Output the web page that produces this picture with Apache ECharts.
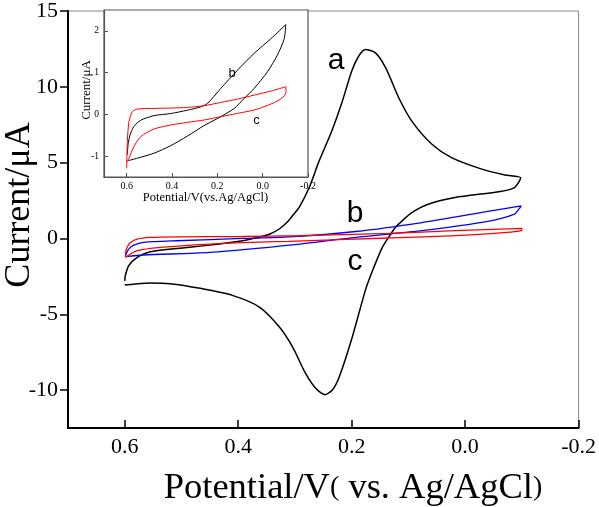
<!DOCTYPE html>
<html><head><meta charset="utf-8">
<script src="https://cdn.jsdelivr.net/npm/echarts@6/dist/echarts.min.js"></script>
<style>html,body{margin:0;padding:0;background:#fff}#c{width:599px;height:507px}</style>
</head><body><div id="c"></div>
<script>
// Main plot curves [potential V, current uA]
const curveA = [[0.6,-2.8],[0.599,-2.45],[0.593,-1.8],[0.578,-1.25],[0.555,-0.88],[0.508,-0.66],[0.45,-0.44],[0.392,-0.15],[0.366,0.06],[0.345,0.28],[0.327,0.64],[0.313,1.10],[0.303,1.56],[0.292,2.09],[0.275,3.34],[0.258,5.05],[0.235,7.09],[0.218,8.86],[0.2,11.03],[0.188,12.0],[0.176,12.46],[0.158,12.24],[0.14,11.25],[0.117,9.28],[0.094,7.74],[0.059,6.23],[0.024,5.33],[-0.028,4.59],[-0.07,4.19],[-0.098,4.0],[-0.087,3.36],[-0.062,3.1],[0.018,2.7],[0.065,2.26],[0.094,1.71],[0.111,1.16],[0.123,0.72],[0.135,0.07],[0.146,-0.59],[0.164,-2.2],[0.176,-3.44],[0.199,-6.51],[0.222,-9.14],[0.234,-10.0],[0.247,-10.3],[0.263,-9.9],[0.281,-8.92],[0.304,-7.17],[0.327,-5.86],[0.362,-4.54],[0.409,-3.77],[0.467,-3.29],[0.52,-2.98],[0.555,-2.93],[0.6,-3.07]];
const curveB = [[0.599,-1.14],[0.593,-0.70],[0.584,-0.44],[0.567,-0.26],[0.508,-0.15],[0.392,0.0],[0.31,0.1],[0.193,0.46],[0.076,1.05],[-0.04,1.78],[-0.099,2.15],[-0.095,1.95],[-0.087,1.6],[-0.04,1.12],[0.076,0.51],[0.193,0.07],[0.30,-0.41],[0.45,-0.92],[0.567,-1.09],[0.599,-1.2]];
const curveC = [[0.599,-1.03],[0.596,-0.59],[0.590,-0.26],[0.578,-0.04],[0.555,0.07],[0.508,0.11],[0.392,0.13],[0.292,0.18],[0.135,0.33],[0.018,0.51],[-0.1,0.66],[-0.099,0.51],[-0.08,0.42],[0.018,0.18],[0.135,0.03],[0.31,-0.19],[0.362,-0.24],[0.45,-0.37],[0.537,-0.59],[0.578,-0.81],[0.599,-1.25]];
// Inset curves
const insetB = [[0.597,-0.97],[0.594,-0.73],[0.585,-0.49],[0.568,-0.29],[0.538,-0.14],[0.479,-0.03],[0.406,0.02],[0.332,0.10],[0.273,0.18],[0.244,0.26],[0.185,0.62],[0.111,1.06],[0.038,1.46],[-0.036,1.81],[-0.102,2.15],[-0.095,1.81],[-0.065,1.42],[-0.021,1.02],[0.038,0.62],[0.082,0.38],[0.126,0.14],[0.2,-0.10],[0.259,-0.27],[0.332,-0.52],[0.406,-0.75],[0.479,-0.93],[0.553,-1.05],[0.594,-1.11]];
const insetC = [[0.6,-1.29],[0.597,-0.65],[0.59,-0.175],[0.575,0.064],[0.553,0.127],[0.479,0.143],[0.406,0.151],[0.332,0.167],[0.259,0.207],[0.185,0.286],[0.111,0.366],[0.038,0.461],[-0.036,0.557],[-0.102,0.66],[-0.103,0.54],[-0.095,0.445],[-0.065,0.318],[-0.006,0.183],[0.038,0.103],[0.111,0.024],[0.185,-0.056],[0.259,-0.135],[0.332,-0.191],[0.406,-0.255],[0.479,-0.35],[0.538,-0.533],[0.568,-0.77],[0.59,-1.05],[0.6,-1.15]];
// Tick values
const xTicks = [0.6,0.4,0.2,0.0,-0.2];
const yTicksMain = [-10,-5,0,5,10,15];
const yTicksInset = [-1,0,1,2];
// Curve labels
const mainLabels = [{name:'a', value:[0.2275,11.69]},{name:'b', value:[0.194,1.62]},{name:'c', value:[0.194,-1.53]}];
const insetLabels = [{name:'b', value:[0.135,0.98]},{name:'c', value:[0.027,-0.14]}];

const serif = '"Liberation Serif","Times New Roman",serif';
const sans = '"Liberation Sans",Arial,sans-serif';
const chart = echarts.init(document.getElementById('c'), null, {renderer:'canvas'});
const fmt = v => (Math.abs(v) < 1e-9 ? '0.0' : v.toFixed(1));
chart.setOption({
  animation:false,
  backgroundColor:'#fff',
  grid:[
    {left:68, top:10, width:512, height:418, show:true, borderColor:'#888', borderWidth:1, backgroundColor:'#fff'},
    {left:104, top:10, width:204, height:167, show:true, borderColor:'#555', borderWidth:1.2, backgroundColor:'#fff'}
  ],
  xAxis:[
    {gridIndex:0, type:'value', min:-0.2, max:0.7, inverse:true,
     axisLine:{onZero:false, lineStyle:{color:'#000', width:2}},
     axisTick:{inside:true, length:8, lineStyle:{color:'#000', width:1.5}, customValues:xTicks},
     axisLabel:{customValues:xTicks, formatter:fmt, fontFamily:serif, fontSize:22, color:'#000', margin:8},
     splitLine:{show:false}},
    {gridIndex:1, type:'value', min:-0.2, max:0.7, inverse:true,
     axisLine:{onZero:false, lineStyle:{color:'#555', width:1.2}},
     axisTick:{inside:true, length:4, lineStyle:{color:'#555', width:1}, customValues:xTicks},
     axisLabel:{customValues:xTicks, formatter:fmt, fontFamily:serif, fontSize:10, color:'#000', margin:4},
     splitLine:{show:false}}
  ],
  yAxis:[
    {gridIndex:0, type:'value', min:-12.5, max:15,
     axisLine:{onZero:false, lineStyle:{color:'#000', width:2}},
     axisTick:{inside:false, length:8, lineStyle:{color:'#000', width:1.5}, customValues:yTicksMain},
     axisLabel:{customValues:yTicksMain, fontFamily:serif, fontSize:22, color:'#000', margin:10},
     splitLine:{show:false}},
    {gridIndex:1, type:'value', min:-1.5, max:2.5,
     axisLine:{onZero:false, lineStyle:{color:'#555', width:1.2}},
     axisTick:{inside:true, length:4, lineStyle:{color:'#555', width:1}, customValues:yTicksInset},
     axisLabel:{customValues:yTicksInset, fontFamily:serif, fontSize:9.5, color:'#000', margin:5},
     splitLine:{show:false}}
  ],
  series:[
    {type:'line', xAxisIndex:0, yAxisIndex:0, data:curveA, showSymbol:false, smooth:0.25, lineStyle:{color:'#000', width:1.5}},
    {type:'line', xAxisIndex:0, yAxisIndex:0, data:curveB, showSymbol:false, smooth:0.25, lineStyle:{color:'#0000ff', width:1.3}},
    {type:'line', xAxisIndex:0, yAxisIndex:0, data:curveC, showSymbol:false, smooth:0.25, lineStyle:{color:'#ff0000', width:1.3}},
    {type:'scatter', xAxisIndex:0, yAxisIndex:0, data:mainLabels, symbolSize:0, silent:true, itemStyle:{opacity:1},
     label:{show:true, position:'inside', formatter:'{b}', fontFamily:sans, fontSize:30, color:'#000', opacity:1}},
    {type:'line', xAxisIndex:1, yAxisIndex:1, data:insetB, showSymbol:false, smooth:0.25, lineStyle:{color:'#000', width:1}},
    {type:'line', xAxisIndex:1, yAxisIndex:1, data:insetC, showSymbol:false, smooth:0.25, lineStyle:{color:'#ff0000', width:1}},
    {type:'scatter', xAxisIndex:1, yAxisIndex:1, data:insetLabels, symbolSize:0, silent:true, itemStyle:{opacity:1},
     label:{show:true, position:'inside', formatter:'{b}', fontFamily:sans, fontSize:13, color:'#000', opacity:1}}
  ],
  graphic:[
    {type:'text', x:20, y:205, rotation:Math.PI/2,
     style:{text:'Current/μA', font:'36px '+serif, fill:'#000', textAlign:'center', textVerticalAlign:'middle'}},
    {type:'text', x:353, y:488,
     style:{text:'{m|Potential/V}{p|(}{m| vs. Ag/AgCl}{p|)}', textAlign:'center', textVerticalAlign:'middle', fill:'#000',
       rich:{m:{fontFamily:serif, fontSize:36.5, fill:'#000'}, p:{fontFamily:serif, fontSize:28, fill:'#000'}}}},
    {type:'text', x:205.5, y:198,
     style:{text:'Potential/V(vs.Ag/AgCl)', font:'12.5px '+serif, fill:'#000', textAlign:'center', textVerticalAlign:'middle'}},
    {type:'text', x:87, y:90, rotation:Math.PI/2,
     style:{text:'Current/μA', font:'13px '+serif, fill:'#000', textAlign:'center', textVerticalAlign:'middle'}}
  ]
});
</script></body></html>
